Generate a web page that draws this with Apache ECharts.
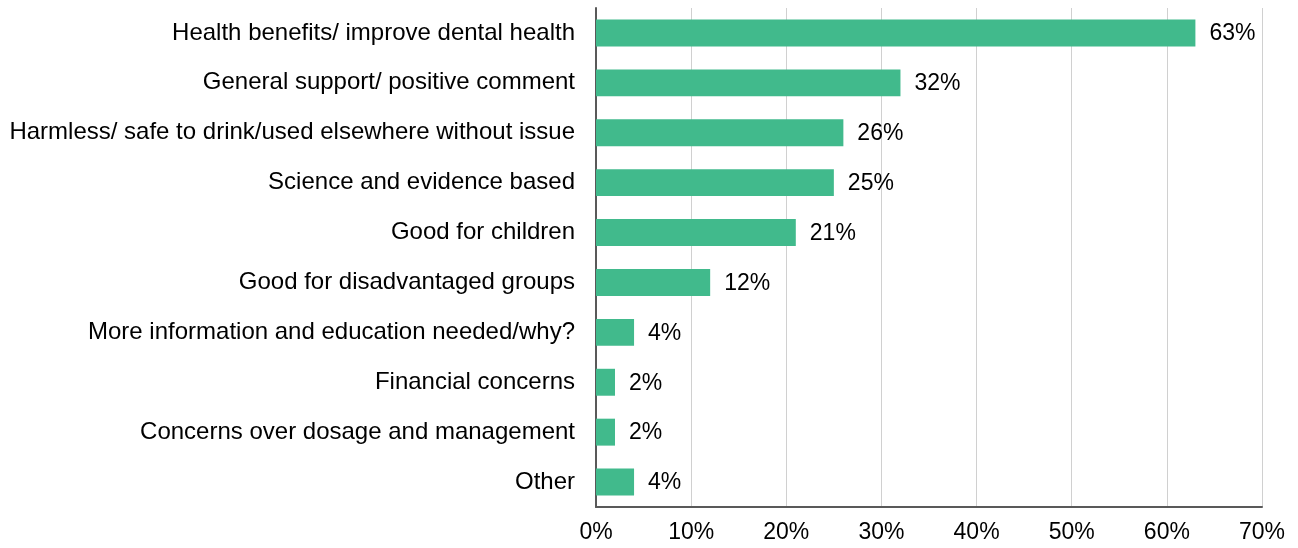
<!DOCTYPE html>
<html>
<head>
<meta charset="utf-8">
<script src="https://cdn.jsdelivr.net/npm/echarts@6/dist/echarts.min.js"></script>
<style>
  html, body { margin: 0; padding: 0; background: #fff; }
  #chart { width: 1298px; height: 548px; }
</style>
</head>
<body>
<div id="chart"></div>
<script>
  const categories = [
    'Health benefits/ improve dental health',
    'General support/ positive comment',
    'Harmless/ safe to drink/used elsewhere without issue',
    'Science and evidence based',
    'Good for children',
    'Good for disadvantaged groups',
    'More information and education needed/why?',
    'Financial concerns',
    'Concerns over dosage and management',
    'Other'
  ];
  const values = [63, 32, 26, 25, 21, 12, 4, 2, 2, 4];

  const font = 'Liberation Sans, Arial, sans-serif';

  const option = {
    animation: false,
    grid: { left: 596, right: 36, top: 8, bottom: 41 },
    xAxis: {
      type: 'value',
      min: 0,
      max: 70,
      interval: 10,
      axisLine: { show: true, lineStyle: { color: '#595959', width: 2 } },
      axisTick: { show: false },
      splitLine: { lineStyle: { color: '#d0d0d0', width: 1 } },
      axisLabel: {
        formatter: '{value}%',
        color: '#000',
        fontFamily: font,
        fontSize: 23,
        margin: 14
      }
    },
    yAxis: {
      type: 'category',
      inverse: true,
      data: categories,
      axisLine: { show: true, lineStyle: { color: '#595959', width: 2 } },
      axisTick: { show: false },
      axisLabel: {
        color: '#000',
        fontFamily: font,
        fontSize: 24,
        margin: 21
      }
    },
    series: [{
      type: 'bar',
      data: values,
      barWidth: '54%',
      itemStyle: { color: '#41ba8c' },
      label: {
        show: true,
        position: 'right',
        distance: 14,
        offset: [0, 1],
        formatter: '{c}%',
        color: '#000',
        fontFamily: font,
        fontSize: 23
      }
    }]
  };

  echarts.init(document.getElementById('chart')).setOption(option);
</script>
</body>
</html>
